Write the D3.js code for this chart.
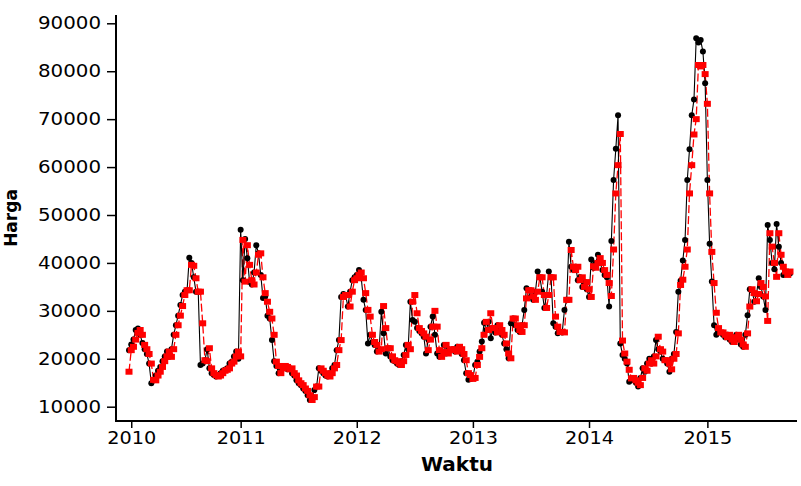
<!DOCTYPE html>
<html lang="id">
<head>
    <meta charset="UTF-8">
    <title>Harga</title>
    <script src="https://d3js.org/d3.v7.min.js"></script>
    <style>
        body { margin: 0; background: #fff; }
        .axis text { font-family: "DejaVu Sans", Verdana, sans-serif; font-size: 17px; fill: #000; }
        .axis line { stroke: #000; stroke-width: 1.5; }
        .title { font-family: "DejaVu Sans", Verdana, sans-serif; font-weight: bold; fill: #000; }
    </style>
</head>
<body>
    <svg width="801" height="486"></svg>
    <script>
        // weekly observations, 2010 - 2015
        const actual = [
            21800, 23000, 24000, 26000, 26300, 25000, 23300, 22000, 21000, 19000,
            14900, 15500, 16500, 17500, 18300, 19500, 20500, 21500, 20400, 22000,
            25000, 27000, 29000, 31200, 33300, 34000, 34300, 41100, 40000, 37000,
            34000, 34000, 18700, 19000, 19700, 22000, 18000, 17000, 16600, 16300,
            16500, 17000, 17500, 17700, 18000, 19000, 19400, 20500, 21500, 20000,
            46900, 36400, 45000, 41000, 36000, 35500, 38000, 43700, 42000, 37500,
            32700, 33000, 29000, 28400, 23900, 19500, 18500, 17000, 18000, 18500,
            18300, 17800, 18000, 17000, 16500, 15500, 14900, 14500, 13800, 13300,
            12400, 11400, 12000, 13500, 14200, 18000, 17500, 17000, 16500, 16300,
            17000, 18000, 18700, 21800, 23900, 32900, 33500, 33300, 30900, 34000,
            36400, 37000, 37500, 38500, 36800, 32300, 30200, 23200, 25000, 23500,
            22900, 21500, 22000, 29800, 25300, 21100, 22200, 20500, 19700, 19500,
            19000, 18700, 19500, 20800, 22900, 22000, 31900, 28100, 27700, 26400,
            25800, 25300, 24600, 21100, 24000, 26700, 28800, 25000, 21100, 20400,
            21500, 22900, 21100, 22000, 21800, 22000, 21500, 22500, 22000, 21000,
            19700, 17000, 15600, 15800, 16000, 18700, 19400, 21500, 23600, 27500,
            26000, 27700, 24300, 26400, 25500, 27000, 26000, 25000, 23200, 22000,
            20100, 27400, 28400, 27000, 26000, 25600, 27000, 30200, 34700, 34300,
            33000, 32300, 34000, 38200, 37000, 34000, 30600, 33300, 38200, 37000,
            27400, 26700, 25300, 25600, 25500, 30200, 32300, 44400, 39200, 38500,
            39200, 36400, 37000, 35000, 36000, 34500, 32900, 40700, 39000, 40000,
            41700, 40000, 38500, 37500, 37000, 30900, 44600, 57300, 63800, 70800,
            23200, 20800, 20000, 19000, 15200, 16000, 15500, 15000, 14200, 16000,
            18000, 17300, 19000, 20000, 19000, 20500, 23900, 22000, 21500, 20000,
            19700, 19000, 17300, 20000, 21000, 25600, 34000, 36300, 40500, 44800,
            57300, 63700, 70800, 74100, 86900, 86000, 86500, 84100, 77500, 57300,
            44000, 36100, 27000, 25000, 26000, 25500, 25000, 24500, 25000, 24000,
            23500, 24500, 25000, 24000, 23000, 22500, 25000, 29100, 34500, 34300,
            31900, 33500, 36800, 35000, 33000, 30200, 47900, 44800, 40000, 38700,
            48100, 43400, 40000, 37500, 38200, 38000, 37800
        ];

        // fitted / forecast values
        const forecast = [
            17300, 21800, 22500, 24000, 25400, 26000, 25000, 22900, 22000, 21000,
            19000, 15600, 15500, 16500, 17300, 18300, 19500, 20500, 21500, 20400,
            22000, 25000, 27000, 29000, 31000, 33300, 34300, 34300, 39600, 39400,
            36800, 34000, 34000, 27400, 19700, 19500, 22200, 18000, 17000, 16600,
            16300, 16500, 17000, 17500, 17700, 18000, 19000, 19400, 20500, 21500,
            20500, 44800, 36100, 43700, 39600, 36400, 35500, 38000, 41700, 42000,
            37000, 33700, 31900, 29800, 28400, 25000, 19400, 18500, 17000, 18000,
            18500, 18300, 17800, 18000, 17000, 16500, 15500, 14900, 14500, 13800,
            13300, 12400, 11400, 12000, 14200, 14200, 18000, 17500, 17000, 16500,
            16300, 17000, 18000, 18700, 21800, 23900, 32900, 33300, 33300, 30900,
            34000, 36400, 36800, 37500, 38000, 36800, 33700, 30200, 28800, 25000,
            23500, 22900, 21500, 22000, 31000, 26400, 22200, 22200, 20500, 19700,
            19500, 19000, 18700, 19500, 20800, 22900, 22000, 31900, 33300, 29500,
            26400, 25800, 25300, 24600, 21800, 24000, 26700, 30000, 26700, 21800,
            20400, 21500, 22900, 21100, 22000, 21800, 22000, 21500, 22500, 22000,
            21000, 19700, 17000, 16600, 15800, 16000, 18700, 20400, 22200, 25000,
            27700, 26000, 29500, 26400, 26400, 25500, 27000, 26000, 25000, 23200,
            21100, 20100, 28400, 28400, 27000, 26000, 25600, 27000, 32600, 34300,
            34300, 33000, 32300, 34000, 37000, 37000, 33300, 30600, 33300, 37000,
            37000, 28800, 26700, 25600, 25600, 25500, 32300, 32300, 42700, 39200,
            38500, 39200, 36400, 37000, 35000, 36000, 34500, 32900, 39300, 39000,
            40000, 41000, 40000, 38500, 37500, 35800, 33100, 42800, 54500, 60400,
            66900, 23800, 21100, 19400, 17700, 15900, 16000, 15500, 15000, 14500,
            16000, 18000, 17500, 19000, 19700, 19000, 20500, 24600, 22000, 21500,
            19700, 19700, 19000, 17800, 20000, 21000, 25300, 35400, 36500, 39200,
            42800, 54500, 60400, 66800, 70000, 81300, 81000, 81300, 79400, 73200,
            54500, 42300, 35800, 29600, 26400, 25500, 25500, 25000, 24500, 25000,
            24000, 23500, 24500, 25000, 24000, 23000, 22500, 25300, 30900, 34500,
            33700, 32000, 33500, 35800, 35000, 33000, 27900, 46200, 43400, 40000,
            37100, 46200, 41700, 39200, 38200, 37500, 38200
        ];

        const yearLabels = ["2010", "2011", "2012", "2013", "2014", "2015"];
        const yearWeek = [1, 50, 102, 154, 206, 259];
        const priceTicks = [10000, 20000, 30000, 40000, 50000, 60000, 70000, 80000, 90000];

        const svg = d3.select("svg");

        const x = d3.scaleLinear()
                    .domain([0, actual.length - 1])
                    .range([129, 790]);
        const y = d3.scaleLinear()
                    .domain([10000, 90000])
                    .range([406.7, 23.3]);

        const left = 116, bottom = 421;

        // axes
        const yAxis = svg.append("g")
            .attr("class", "axis")
            .attr("transform", `translate(${left},0)`)
            .call(d3.axisLeft(y).tickValues(priceTicks).tickSize(9).tickPadding(6)
                  .tickFormat(d3.format("d")));
        yAxis.select(".domain").remove();
        yAxis.selectAll("text").attr("textLength", 63).attr("lengthAdjust", "spacingAndGlyphs");

        const xAxis = svg.append("g")
            .attr("class", "axis")
            .attr("transform", `translate(0,${bottom})`)
            .call(d3.axisBottom(x).tickValues(yearWeek).tickSize(7).tickPadding(4)
                  .tickFormat((d, i) => yearLabels[i]));
        xAxis.select(".domain").remove();
        xAxis.selectAll("text").attr("textLength", 49).attr("lengthAdjust", "spacingAndGlyphs");

        svg.append("line")
           .attr("x1", left).attr("x2", left).attr("y1", 15).attr("y2", bottom + 1)
           .attr("stroke", "#000").attr("stroke-width", 2);
        svg.append("line")
           .attr("x1", left - 1).attr("x2", 797).attr("y1", bottom).attr("y2", bottom)
           .attr("stroke", "#000").attr("stroke-width", 2);

        // titles
        svg.append("text")
           .attr("class", "title")
           .attr("x", 457).attr("y", 471)
           .attr("text-anchor", "middle")
           .style("font-size", "20px")
           .text("Waktu");
        svg.append("text")
           .attr("class", "title")
           .attr("transform", "translate(17,218) rotate(-90)")
           .attr("text-anchor", "middle")
           .style("font-size", "17px")
           .text("Harga");

        const line = d3.line()
            .x((d, i) => x(i))
            .y(d => y(d));

        // lines
        svg.append("path")
           .datum(forecast)
           .attr("fill", "none")
           .attr("stroke", "#ff0000")
           .attr("stroke-width", 1.3)
           .attr("stroke-dasharray", "8,3")
           .attr("d", line);
        svg.append("path")
           .datum(actual)
           .attr("fill", "none")
           .attr("stroke", "#000")
           .attr("stroke-width", 1.1)
           .attr("d", line);

        // markers
        svg.selectAll(".dot")
           .data(actual)
           .enter().append("circle")
           .attr("class", "dot")
           .attr("cx", (d, i) => x(i))
           .attr("cy", d => y(d))
           .attr("r", 3)
           .attr("fill", "#000");
        svg.selectAll(".sq")
           .data(forecast)
           .enter().append("rect")
           .attr("class", "sq")
           .attr("x", (d, i) => x(i) - 3.5)
           .attr("y", d => y(d) - 3)
           .attr("width", 7)
           .attr("height", 6)
           .attr("fill", "#ff0000");
    </script>
</body>
</html>
